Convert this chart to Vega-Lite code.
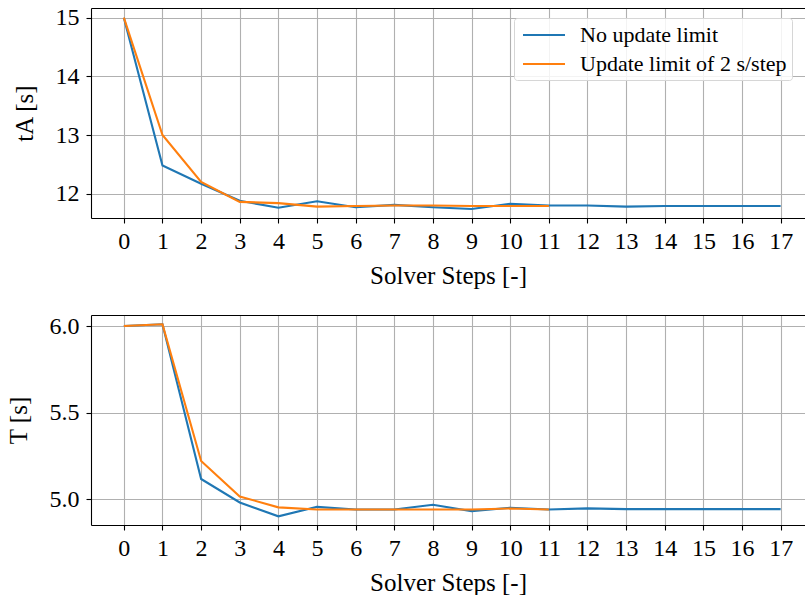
{
  "$schema": "https://vega.github.io/schema/vega-lite/v6.json",
  "padding": {"left": 6, "top": 5, "right": 0, "bottom": 0},
  "background": "white",
  "spacing": 26,
  "config": {
    "view": {"stroke": null},
    "font": "Liberation Serif",
    "axis": {
      "labelFont": "Liberation Serif", "labelFontSize": 24, "labelColor": "black",
      "titleFont": "Liberation Serif", "titleFontSize": 25, "titleFontWeight": "normal", "titleColor": "black",
      "domainColor": "black", "domainWidth": 1.1, "tickColor": "black", "tickWidth": 1.1, "tickSize": 5,
      "gridColor": "#b0b0b0", "gridWidth": 1.1, "labelPadding": 6
    },
    "legend": {
      "labelFont": "Liberation Serif", "labelFontSize": 22, "labelColor": "black", "labelLimit": 0
    }
  },
  "datasets": {
    "top": [
      {"step": 0, "value": 15.0, "series": "No update limit"},
      {"step": 1, "value": 12.48, "series": "No update limit"},
      {"step": 2, "value": 12.17, "series": "No update limit"},
      {"step": 3, "value": 11.88, "series": "No update limit"},
      {"step": 4, "value": 11.76, "series": "No update limit"},
      {"step": 5, "value": 11.87, "series": "No update limit"},
      {"step": 6, "value": 11.77, "series": "No update limit"},
      {"step": 7, "value": 11.81, "series": "No update limit"},
      {"step": 8, "value": 11.77, "series": "No update limit"},
      {"step": 9, "value": 11.74, "series": "No update limit"},
      {"step": 10, "value": 11.83, "series": "No update limit"},
      {"step": 11, "value": 11.80, "series": "No update limit"},
      {"step": 12, "value": 11.80, "series": "No update limit"},
      {"step": 13, "value": 11.78, "series": "No update limit"},
      {"step": 14, "value": 11.79, "series": "No update limit"},
      {"step": 15, "value": 11.79, "series": "No update limit"},
      {"step": 16, "value": 11.79, "series": "No update limit"},
      {"step": 17, "value": 11.79, "series": "No update limit"},
      {"step": 0, "value": 15.0, "series": "Update limit of 2 s/step"},
      {"step": 1, "value": 13.0, "series": "Update limit of 2 s/step"},
      {"step": 2, "value": 12.2, "series": "Update limit of 2 s/step"},
      {"step": 3, "value": 11.86, "series": "Update limit of 2 s/step"},
      {"step": 4, "value": 11.84, "series": "Update limit of 2 s/step"},
      {"step": 5, "value": 11.78, "series": "Update limit of 2 s/step"},
      {"step": 6, "value": 11.79, "series": "Update limit of 2 s/step"},
      {"step": 7, "value": 11.80, "series": "Update limit of 2 s/step"},
      {"step": 8, "value": 11.80, "series": "Update limit of 2 s/step"},
      {"step": 9, "value": 11.79, "series": "Update limit of 2 s/step"},
      {"step": 10, "value": 11.79, "series": "Update limit of 2 s/step"},
      {"step": 11, "value": 11.79, "series": "Update limit of 2 s/step"}
    ],
    "bottom": [
      {"step": 0, "value": 6.0, "series": "No update limit"},
      {"step": 1, "value": 6.01, "series": "No update limit"},
      {"step": 2, "value": 5.116, "series": "No update limit"},
      {"step": 3, "value": 4.98, "series": "No update limit"},
      {"step": 4, "value": 4.90, "series": "No update limit"},
      {"step": 5, "value": 4.955, "series": "No update limit"},
      {"step": 6, "value": 4.94, "series": "No update limit"},
      {"step": 7, "value": 4.94, "series": "No update limit"},
      {"step": 8, "value": 4.967, "series": "No update limit"},
      {"step": 9, "value": 4.93, "series": "No update limit"},
      {"step": 10, "value": 4.95, "series": "No update limit"},
      {"step": 11, "value": 4.94, "series": "No update limit"},
      {"step": 12, "value": 4.946, "series": "No update limit"},
      {"step": 13, "value": 4.942, "series": "No update limit"},
      {"step": 14, "value": 4.942, "series": "No update limit"},
      {"step": 15, "value": 4.942, "series": "No update limit"},
      {"step": 16, "value": 4.942, "series": "No update limit"},
      {"step": 17, "value": 4.942, "series": "No update limit"},
      {"step": 0, "value": 6.0, "series": "Update limit of 2 s/step"},
      {"step": 1, "value": 6.01, "series": "Update limit of 2 s/step"},
      {"step": 2, "value": 5.22, "series": "Update limit of 2 s/step"},
      {"step": 3, "value": 5.015, "series": "Update limit of 2 s/step"},
      {"step": 4, "value": 4.952, "series": "Update limit of 2 s/step"},
      {"step": 5, "value": 4.94, "series": "Update limit of 2 s/step"},
      {"step": 6, "value": 4.94, "series": "Update limit of 2 s/step"},
      {"step": 7, "value": 4.94, "series": "Update limit of 2 s/step"},
      {"step": 8, "value": 4.94, "series": "Update limit of 2 s/step"},
      {"step": 9, "value": 4.94, "series": "Update limit of 2 s/step"},
      {"step": 10, "value": 4.945, "series": "Update limit of 2 s/step"},
      {"step": 11, "value": 4.94, "series": "Update limit of 2 s/step"}
    ]
  },
  "vconcat": [
    {
      "width": 714, "height": 210,
      "data": {"name": "top"},
      "resolve": {"axis": {"x": "independent"}},
      "layer": [
        {
          "mark": {"type": "line", "strokeWidth": 2.1, "clip": true},
          "encoding": {
            "x": {"field": "step", "type": "quantitative",
                  "scale": {"domain": [-0.85, 17.63], "nice": false, "zero": false},
                  "axis": {"values": [0,1,2,3,4,5,6,7,8,9,10,11,12,13,14,15,16,17], "format": "d", "title": "Solver Steps [-]", "titlePadding": 10}},
            "y": {"field": "value", "type": "quantitative",
                  "scale": {"domain": [11.586, 15.165], "nice": false, "zero": false},
                  "axis": {"values": [12, 13, 14, 15], "format": "d", "title": "tA [s]", "titlePadding": 18, "labelPadding": 7}},
            "color": {"field": "series", "type": "nominal",
                      "scale": {"domain": ["No update limit", "Update limit of 2 s/step"], "range": ["#1f77b4", "#ff7f0e"]},
                      "legend": {"title": null, "orient": "none", "legendX": 423, "legendY": 10,
                                 "symbolType": "M-2,0H2", "symbolSize": 441, "symbolStrokeWidth": 2.2, "symbolOffset": 13,
                                 "strokeColor": "#d6d6d6", "fillColor": "rgba(255,255,255,0.85)", "cornerRadius": 3,
                                 "padding": 5, "labelOffset": 24, "rowPadding": 6}}
          }
        },
        {
          "mark": {"type": "line", "opacity": 0},
          "encoding": {
            "x": {"field": "step", "type": "quantitative",
                  "scale": {"domain": [-0.85, 17.63], "nice": false, "zero": false},
                  "axis": {"orient": "top", "labels": false, "ticks": false, "grid": false, "domain": true, "title": null}},
            "y": {"field": "value", "type": "quantitative",
                  "axis": {"values": [12, 13, 14, 15], "format": "d", "title": "tA [s]", "titlePadding": 18, "labelPadding": 7}}
          }
        }
      ]
    },
    {
      "width": 714, "height": 210,
      "data": {"name": "bottom"},
      "resolve": {"axis": {"x": "independent"}},
      "layer": [
        {
          "mark": {"type": "line", "strokeWidth": 2.1, "clip": true},
          "encoding": {
            "x": {"field": "step", "type": "quantitative",
                  "scale": {"domain": [-0.85, 17.63], "nice": false, "zero": false},
                  "axis": {"values": [0,1,2,3,4,5,6,7,8,9,10,11,12,13,14,15,16,17], "format": "d", "title": "Solver Steps [-]", "titlePadding": 10}},
            "y": {"field": "value", "type": "quantitative",
                  "scale": {"domain": [4.85, 6.0636], "nice": false, "zero": false},
                  "axis": {"values": [5.0, 5.5, 6.0], "format": ".1f", "title": "T [s]", "titlePadding": 18, "labelPadding": 7}},
            "color": {"field": "series", "type": "nominal",
                      "scale": {"domain": ["No update limit", "Update limit of 2 s/step"], "range": ["#1f77b4", "#ff7f0e"]},
                      "legend": null}
          }
        },
        {
          "mark": {"type": "line", "opacity": 0},
          "encoding": {
            "x": {"field": "step", "type": "quantitative",
                  "scale": {"domain": [-0.85, 17.63], "nice": false, "zero": false},
                  "axis": {"orient": "top", "labels": false, "ticks": false, "grid": false, "domain": true, "title": null}},
            "y": {"field": "value", "type": "quantitative",
                  "axis": {"values": [5.0, 5.5, 6.0], "format": ".1f", "title": "T [s]", "titlePadding": 18, "labelPadding": 7}}
          }
        }
      ]
    }
  ],
  "resolve": {"legend": {"color": "independent"}}
}
